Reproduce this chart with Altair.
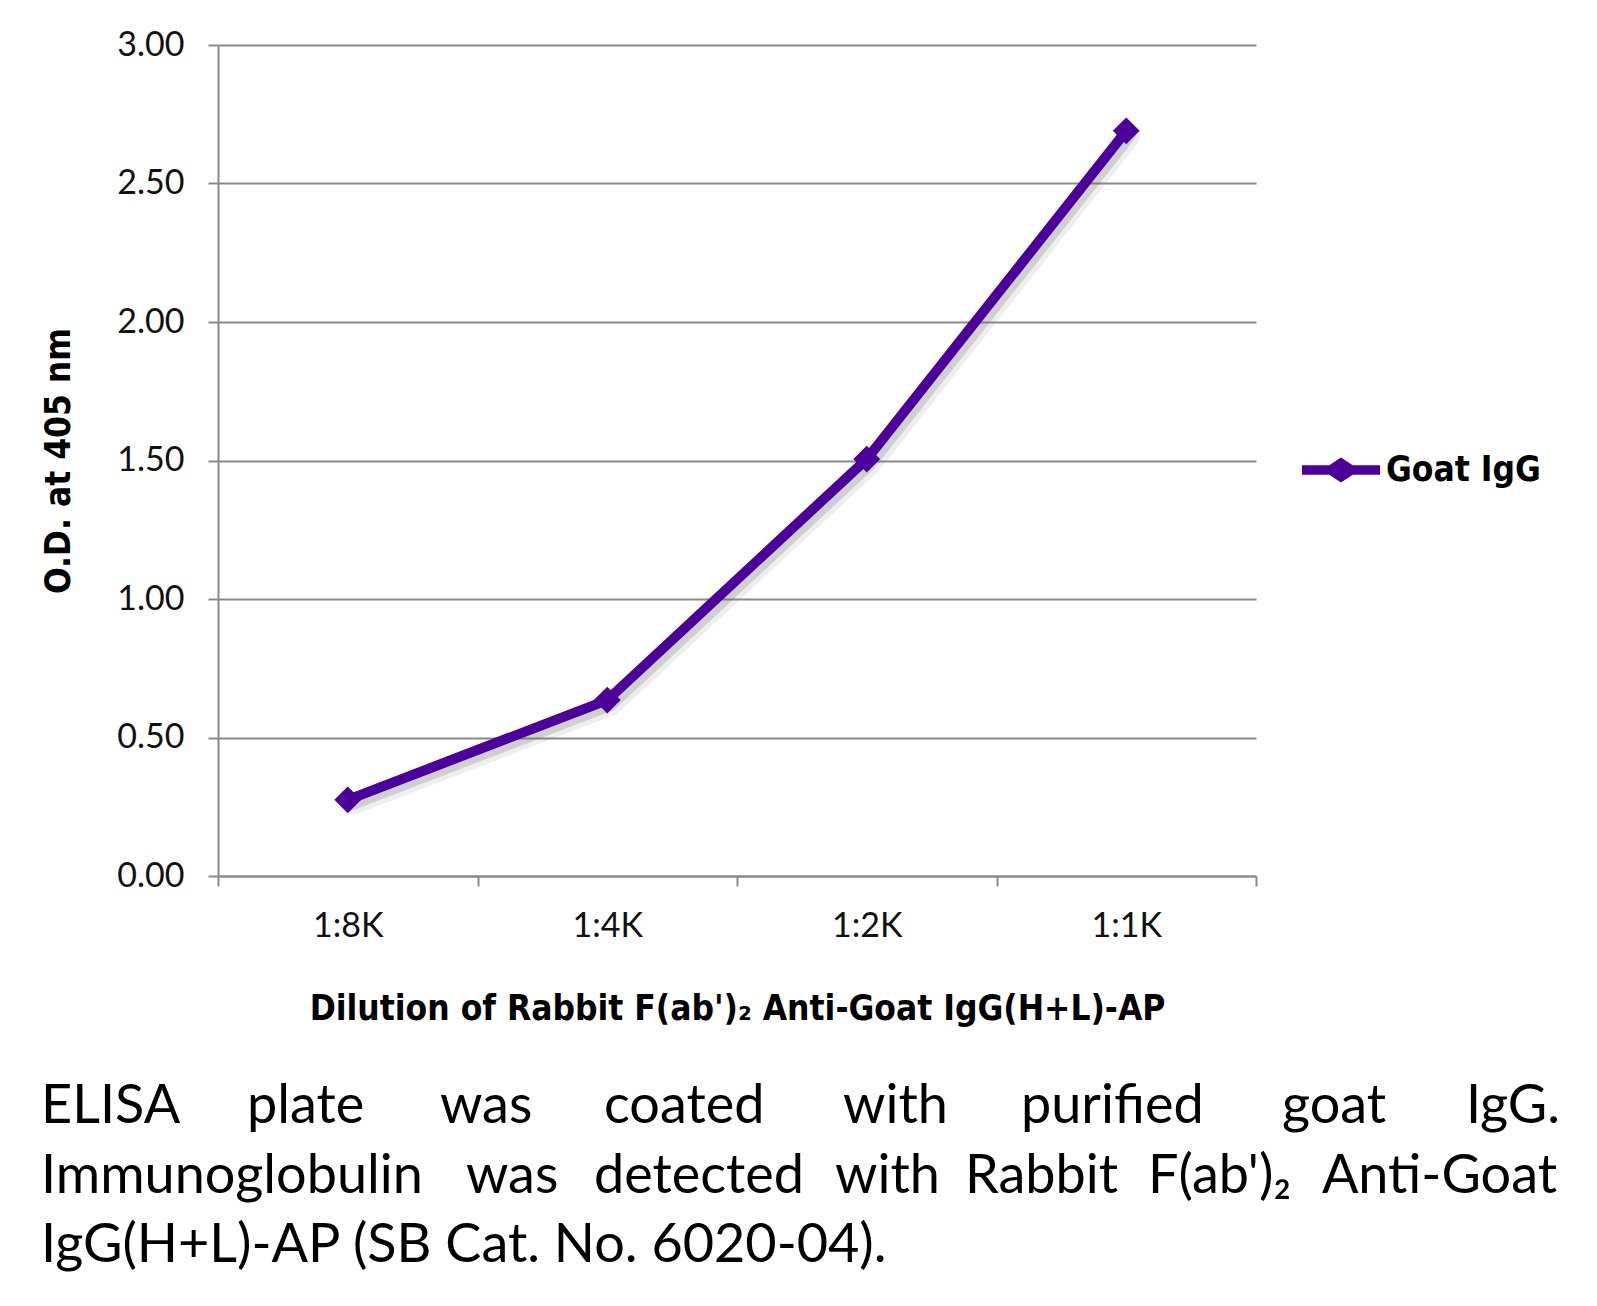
import altair as alt
import pandas as pd

# ---------------- data ----------------
DILUTIONS = ["1:8K", "1:4K", "1:2K", "1:1K"]
OD_405 = [0.275, 0.635, 1.505, 2.69]
SERIES = "Goat IgG"
Y_TICKS = [0.0, 0.5, 1.0, 1.5, 2.0, 2.5, 3.0]
X_TITLE = "Dilution of Rabbit F(ab')₂ Anti-Goat IgG(H+L)-AP"
Y_TITLE = "O.D. at 405 nm"
CAPTION_LINES = [
    ["ELISA", "plate", "was", "coated", "with", "purified", "goat", "IgG."],
    ["Immunoglobulin", "was", "detected", "with", "Rabbit", "F(ab')₂", "Anti-Goat"],
    ["IgG(H+L)-AP (SB Cat. No. 6020-04)."],
]

# ---------------- layout (page pixels) ----------------
PAD_L, PAD_T, W, H = 218, 45, 1038, 831
PAGE_W, PAGE_H = 1597, 1306
CAPTION_LEFT = [[41, 247, 440, 604, 843, 1021, 1282],
                [41, 466, 594, 835, 965, 1148],
                [41]]
CAPTION_RIGHT = [1560, 1557, None]
CAPTION_BASE = [1123, 1193, 1262]

PURPLE = "#4A0099"
GRID = "#8a8a8a"
FONT = "Lato"
BOLD_FONT = "DejaVu Sans Condensed"

df = pd.DataFrame({"dilution": DILUTIONS, "od": OD_405, "series": [SERIES] * len(DILUTIONS)})

x_enc = alt.X(
    "dilution:N", sort=DILUTIONS,
    scale=alt.Scale(paddingInner=0, paddingOuter=0),
    axis=alt.Axis(
        title=X_TITLE, labelAngle=0, tickBand="extent", tickSize=10, tickWidth=2,
        tickColor=GRID, domainColor=GRID, domainWidth=2, grid=False,
        labelFont=FONT, labelFontSize=34, labelColor="#111111", labelPadding=23,
        titleFont=BOLD_FONT, titleFontSize=35, titleFontWeight="bold", titleColor="#000000",
        titlePadding=48,
    ),
)
y_enc = alt.Y(
    "od:Q",
    scale=alt.Scale(domain=[0, 3], nice=False, zero=True),
    axis=alt.Axis(
        title=Y_TITLE, values=Y_TICKS, format=".2f", tickSize=10, tickWidth=2,
        tickColor=GRID, domainColor=GRID, domainWidth=2,
        gridColor=GRID, gridWidth=2,
        labelFont=FONT, labelFontSize=34, labelColor="#111111", labelPadding=24,
        titleFont=BOLD_FONT, titleFontSize=35, titleFontWeight="bold", titleColor="#000000",
        titlePadding=40,
    ),
)

LEGEND_PATH = ("M-1,-0.12 L-0.3,-0.12 L0,-0.32 L0.3,-0.12 L1,-0.12 "
               "L1,0.12 L0.3,0.12 L0,0.32 L-0.3,0.12 L-1,0.12 Z")
color_scale = alt.Scale(domain=[SERIES], range=[PURPLE])
color_enc = alt.Color(
    "series:N",
    scale=color_scale,
    legend=alt.Legend(
        title=None, orient="none", legendX=1302 - PAD_L, legendY=470 - PAD_T - 39,
        symbolType=LEGEND_PATH, symbolSize=78 * 78, symbolStrokeWidth=0,
        symbolFillColor=PURPLE, symbolStrokeColor=PURPLE, symbolOpacity=1, padding=0, labelOffset=6,
        labelFont=BOLD_FONT, labelFontSize=35, labelFontWeight="bold", labelColor="#000000",
    ),
)

base = alt.Chart(df)
shadow1 = base.mark_line(color="#777777", opacity=0.12, strokeWidth=18, xOffset=5, yOffset=6,
                         strokeCap="round", strokeJoin="round").encode(x=x_enc, y=y_enc)
shadow2 = base.mark_line(color="#666666", opacity=0.22, strokeWidth=11, xOffset=4, yOffset=5,
                         strokeCap="round", strokeJoin="round").encode(x=x_enc, y=y_enc)
line = base.mark_line(strokeWidth=10, strokeJoin="round", color=PURPLE).encode(x=x_enc, y=y_enc)
points = base.mark_point(filled=True, size=720, opacity=1, shape="diamond").encode(
    x=x_enc, y=y_enc, color=color_enc)

caption_layers = []
for words, lefts, right, baseline in zip(CAPTION_LINES, CAPTION_LEFT, CAPTION_RIGHT, CAPTION_BASE):
    placed = list(zip(words, lefts, ["left"] * len(lefts)))
    if right is not None:
        placed = list(zip(words[:-1], lefts, ["left"] * len(lefts))) + [(words[-1], right, "right")]
    for word, px, align in placed:
        caption_layers.append(
            alt.Chart(pd.DataFrame({"w": [word]})).mark_text(
                align=align, baseline="alphabetic", font=FONT, fontSize=54, color="#000000"
            ).encode(x=alt.value(px - PAD_L), y=alt.value(baseline - PAD_T), text="w:N")
        )

chart = alt.layer(shadow1, shadow2, line, points, *caption_layers).properties(
    width=W, height=H,
    autosize=alt.AutoSizeParams(type="none"),
    padding={"left": PAD_L, "top": PAD_T, "right": PAGE_W - PAD_L - W, "bottom": PAGE_H - PAD_T - H},
    background="white",
).configure_view(stroke=None)

chart.save("out.html", embed_options={"renderer": "svg", "actions": False})
